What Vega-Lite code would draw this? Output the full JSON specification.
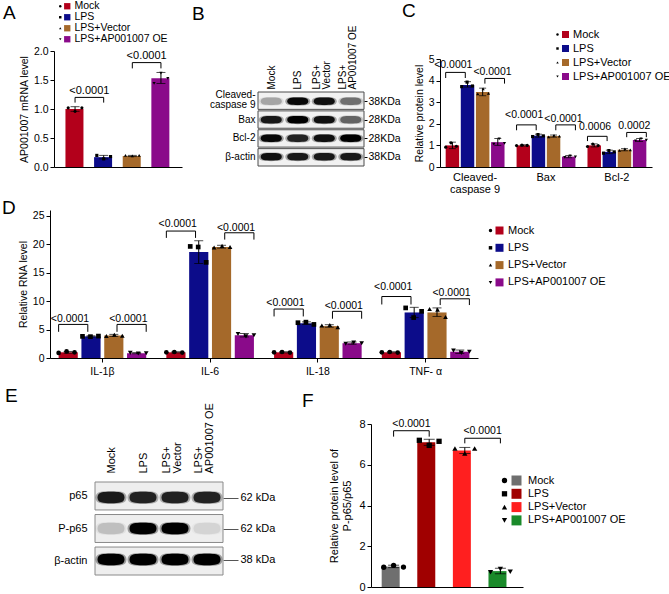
{
"$schema":"https://vega.github.io/schema/vega-lite/v6.json",
"padding":{"left":2,"top":1,"right":0,"bottom":0},
"config":{"font":"Liberation Sans","view":{"stroke":null},
"axis":{"domainColor":"#000","tickColor":"#000","labelColor":"#000","titleColor":"#000","labelFontSize":10.5,"titleFontSize":10.5,"titleFontWeight":"normal","grid":false,"tickSize":4,"labelPadding":2,"titlePadding":4,"labelOverlap":false},
"legend":{"labelColor":"#000","padding":0},
"title":{"fontSize":19,"fontWeight":"normal","anchor":"start","frame":"group","color":"#000","offset":0},
"text":{"color":"#000"}},
"datasets":{
"a_bars":[{"group":"Mock","mean":1.0,"lo":0.96,"hi":1.04},{"group":"LPS","mean":0.17,"lo":0.14,"hi":0.2},{"group":"LPS+Vector","mean":0.19,"lo":0.18,"hi":0.2},{"group":"LPS+AP001007 OE","mean":1.53,"lo":1.44,"hi":1.63}],
"a_pts":[{"group":"Mock","rep":1,"value":1.02},{"group":"Mock","rep":2,"value":0.96},{"group":"Mock","rep":3,"value":1.02},{"group":"LPS","rep":1,"value":0.2},{"group":"LPS","rep":2,"value":0.14},{"group":"LPS","rep":3,"value":0.18},{"group":"LPS+Vector","rep":1,"value":0.2},{"group":"LPS+Vector","rep":2,"value":0.19},{"group":"LPS+Vector","rep":3,"value":0.2},{"group":"LPS+AP001007 OE","rep":1,"value":1.44},{"group":"LPS+AP001007 OE","rep":2,"value":1.62},{"group":"LPS+AP001007 OE","rep":3,"value":1.53}],
"a_br":[{"id":"b1","group":"Mock","y":1.11,"ord":1},{"id":"b1","group":"Mock","y":1.2,"ord":2},{"id":"b1","group":"LPS","y":1.2,"ord":3},{"id":"b1","group":"LPS","y":1.11,"ord":4},{"id":"b2","group":"LPS+Vector","y":1.7,"ord":1},{"id":"b2","group":"LPS+Vector","y":1.8,"ord":2},{"id":"b2","group":"LPS+AP001007 OE","y":1.8,"ord":3},{"id":"b2","group":"LPS+AP001007 OE","y":1.7,"ord":4}],
"a_lab":[{"from":"Mock","y":1.31,"text":"<0.0001"},{"from":"LPS+Vector","y":1.91,"text":"<0.0001"}],
"b_rows":[{"row":"Cleaved-caspase 9"},{"row":"Bax"},{"row":"Bcl-2"},{"row":"β-actin"}],
"b_bands":[{"row":"Cleaved-caspase 9","lane":"Mock","intensity":0.25},{"row":"Cleaved-caspase 9","lane":"LPS","intensity":0.95},{"row":"Cleaved-caspase 9","lane":"LPS+Vector","intensity":0.9},{"row":"Cleaved-caspase 9","lane":"LPS+AP001007 OE","intensity":0.45},{"row":"Bax","lane":"Mock","intensity":0.85},{"row":"Bax","lane":"LPS","intensity":1.0},{"row":"Bax","lane":"LPS+Vector","intensity":0.9},{"row":"Bax","lane":"LPS+AP001007 OE","intensity":0.5},{"row":"Bcl-2","lane":"Mock","intensity":0.95},{"row":"Bcl-2","lane":"LPS","intensity":0.8},{"row":"Bcl-2","lane":"LPS+Vector","intensity":0.9},{"row":"Bcl-2","lane":"LPS+AP001007 OE","intensity":1.0},{"row":"β-actin","lane":"Mock","intensity":0.9},{"row":"β-actin","lane":"LPS","intensity":0.85},{"row":"β-actin","lane":"LPS+Vector","intensity":0.85},{"row":"β-actin","lane":"LPS+AP001007 OE","intensity":0.85}],
"c_bars":[{"target":"Cleaved-caspase 9","group":"Mock","mean":1.0,"lo":0.85,"hi":1.15},{"target":"Cleaved-caspase 9","group":"LPS","mean":3.8,"lo":3.7,"hi":3.95},{"target":"Cleaved-caspase 9","group":"LPS+Vector","mean":3.47,"lo":3.3,"hi":3.65},{"target":"Cleaved-caspase 9","group":"LPS+AP001007 OE","mean":1.15,"lo":1.0,"hi":1.32},{"target":"Bax","group":"Mock","mean":1.0,"lo":0.97,"hi":1.03},{"target":"Bax","group":"LPS","mean":1.45,"lo":1.38,"hi":1.52},{"target":"Bax","group":"LPS+Vector","mean":1.43,"lo":1.38,"hi":1.48},{"target":"Bax","group":"LPS+AP001007 OE","mean":0.48,"lo":0.43,"hi":0.53},{"target":"Bcl-2","group":"Mock","mean":1.0,"lo":0.93,"hi":1.07},{"target":"Bcl-2","group":"LPS","mean":0.7,"lo":0.62,"hi":0.78},{"target":"Bcl-2","group":"LPS+Vector","mean":0.8,"lo":0.75,"hi":0.85},{"target":"Bcl-2","group":"LPS+AP001007 OE","mean":1.25,"lo":1.18,"hi":1.32}],
"c_pts":[
{"target":"Cleaved-caspase 9","group":"Mock","key":"Mock-1","value":0.92},{"target":"Cleaved-caspase 9","group":"Mock","key":"Mock-2","value":1.12},{"target":"Cleaved-caspase 9","group":"Mock","key":"Mock-3","value":0.96},
{"target":"Cleaved-caspase 9","group":"LPS","key":"LPS-1","value":3.72},{"target":"Cleaved-caspase 9","group":"LPS","key":"LPS-2","value":3.93},{"target":"Cleaved-caspase 9","group":"LPS","key":"LPS-3","value":3.75},
{"target":"Cleaved-caspase 9","group":"LPS+Vector","key":"LPS+Vector-1","value":3.38},{"target":"Cleaved-caspase 9","group":"LPS+Vector","key":"LPS+Vector-2","value":3.62},{"target":"Cleaved-caspase 9","group":"LPS+Vector","key":"LPS+Vector-3","value":3.41},
{"target":"Cleaved-caspase 9","group":"LPS+AP001007 OE","key":"LPS+AP001007 OE-1","value":1.06},{"target":"Cleaved-caspase 9","group":"LPS+AP001007 OE","key":"LPS+AP001007 OE-2","value":1.3},{"target":"Cleaved-caspase 9","group":"LPS+AP001007 OE","key":"LPS+AP001007 OE-3","value":1.09},
{"target":"Bax","group":"Mock","key":"Mock-1","value":0.99},{"target":"Bax","group":"Mock","key":"Mock-2","value":1.01},{"target":"Bax","group":"Mock","key":"Mock-3","value":1.0},
{"target":"Bax","group":"LPS","key":"LPS-1","value":1.41},{"target":"Bax","group":"LPS","key":"LPS-2","value":1.5},{"target":"Bax","group":"LPS","key":"LPS-3","value":1.44},
{"target":"Bax","group":"LPS+Vector","key":"LPS+Vector-1","value":1.4},{"target":"Bax","group":"LPS+Vector","key":"LPS+Vector-2","value":1.46},{"target":"Bax","group":"LPS+Vector","key":"LPS+Vector-3","value":1.43},
{"target":"Bax","group":"LPS+AP001007 OE","key":"LPS+AP001007 OE-1","value":0.45},{"target":"Bax","group":"LPS+AP001007 OE","key":"LPS+AP001007 OE-2","value":0.52},{"target":"Bax","group":"LPS+AP001007 OE","key":"LPS+AP001007 OE-3","value":0.47},
{"target":"Bcl-2","group":"Mock","key":"Mock-1","value":0.95},{"target":"Bcl-2","group":"Mock","key":"Mock-2","value":1.06},{"target":"Bcl-2","group":"Mock","key":"Mock-3","value":0.99},
{"target":"Bcl-2","group":"LPS","key":"LPS-1","value":0.64},{"target":"Bcl-2","group":"LPS","key":"LPS-2","value":0.76},{"target":"Bcl-2","group":"LPS","key":"LPS-3","value":0.7},
{"target":"Bcl-2","group":"LPS+Vector","key":"LPS+Vector-1","value":0.77},{"target":"Bcl-2","group":"LPS+Vector","key":"LPS+Vector-2","value":0.84},{"target":"Bcl-2","group":"LPS+Vector","key":"LPS+Vector-3","value":0.79},
{"target":"Bcl-2","group":"LPS+AP001007 OE","key":"LPS+AP001007 OE-1","value":1.21},{"target":"Bcl-2","group":"LPS+AP001007 OE","key":"LPS+AP001007 OE-2","value":1.3},{"target":"Bcl-2","group":"LPS+AP001007 OE","key":"LPS+AP001007 OE-3","value":1.24}],
"c_br":[
{"target":"Cleaved-caspase 9","id":"c1","group":"Mock","y":4.12,"ord":1},{"target":"Cleaved-caspase 9","id":"c1","group":"Mock","y":4.38,"ord":2},{"target":"Cleaved-caspase 9","id":"c1","group":"LPS","y":4.38,"ord":3},{"target":"Cleaved-caspase 9","id":"c1","group":"LPS","y":4.12,"ord":4},
{"target":"Cleaved-caspase 9","id":"c2","group":"LPS+Vector","y":3.86,"ord":1},{"target":"Cleaved-caspase 9","id":"c2","group":"LPS+Vector","y":4.1,"ord":2},{"target":"Cleaved-caspase 9","id":"c2","group":"LPS+AP001007 OE","y":4.1,"ord":3},{"target":"Cleaved-caspase 9","id":"c2","group":"LPS+AP001007 OE","y":3.86,"ord":4},
{"target":"Bax","id":"c3","group":"Mock","y":1.7,"ord":1},{"target":"Bax","id":"c3","group":"Mock","y":1.95,"ord":2},{"target":"Bax","id":"c3","group":"LPS","y":1.95,"ord":3},{"target":"Bax","id":"c3","group":"LPS","y":1.7,"ord":4},
{"target":"Bax","id":"c4","group":"LPS+Vector","y":1.7,"ord":1},{"target":"Bax","id":"c4","group":"LPS+Vector","y":1.95,"ord":2},{"target":"Bax","id":"c4","group":"LPS+AP001007 OE","y":1.95,"ord":3},{"target":"Bax","id":"c4","group":"LPS+AP001007 OE","y":1.7,"ord":4},
{"target":"Bcl-2","id":"c5","group":"Mock","y":1.2,"ord":1},{"target":"Bcl-2","id":"c5","group":"Mock","y":1.42,"ord":2},{"target":"Bcl-2","id":"c5","group":"LPS","y":1.42,"ord":3},{"target":"Bcl-2","id":"c5","group":"LPS","y":1.2,"ord":4},
{"target":"Bcl-2","id":"c6","group":"LPS+Vector","y":1.38,"ord":1},{"target":"Bcl-2","id":"c6","group":"LPS+Vector","y":1.6,"ord":2},{"target":"Bcl-2","id":"c6","group":"LPS+AP001007 OE","y":1.6,"ord":3},{"target":"Bcl-2","id":"c6","group":"LPS+AP001007 OE","y":1.38,"ord":4}],
"c_lab":[{"target":"Cleaved-caspase 9","from":"Mock","y":4.72,"text":"<0.0001"},{"target":"Cleaved-caspase 9","from":"LPS+Vector","y":4.4,"text":"<0.0001"},{"target":"Bax","from":"Mock","y":2.42,"text":"<0.0001"},{"target":"Bax","from":"LPS+Vector","y":2.2,"text":"<0.0001"},{"target":"Bcl-2","from":"Mock","y":1.85,"text":"0.0006"},{"target":"Bcl-2","from":"LPS+Vector","y":1.88,"text":"0.0002"}],
"d_bars":[{"target":"IL-1β","group":"Mock","mean":1.0,"lo":0.85,"hi":1.15},{"target":"IL-1β","group":"LPS","mean":3.8,"lo":3.7,"hi":3.9},{"target":"IL-1β","group":"LPS+Vector","mean":3.95,"lo":3.8,"hi":4.15},{"target":"IL-1β","group":"LPS+AP001007 OE","mean":0.85,"lo":0.75,"hi":0.95},
{"target":"IL-6","group":"Mock","mean":1.0,"lo":0.9,"hi":1.1},{"target":"IL-6","group":"LPS","mean":18.6,"lo":16.6,"hi":20.6},{"target":"IL-6","group":"LPS+Vector","mean":19.5,"lo":19.3,"hi":19.8},{"target":"IL-6","group":"LPS+AP001007 OE","mean":4.0,"lo":3.7,"hi":4.3},
{"target":"IL-18","group":"Mock","mean":1.0,"lo":0.9,"hi":1.1},{"target":"IL-18","group":"LPS","mean":6.1,"lo":5.9,"hi":6.35},{"target":"IL-18","group":"LPS+Vector","mean":5.6,"lo":5.4,"hi":5.85},{"target":"IL-18","group":"LPS+AP001007 OE","mean":2.6,"lo":2.4,"hi":2.8},
{"target":"TNF- α","group":"Mock","mean":1.0,"lo":0.9,"hi":1.1},{"target":"TNF- α","group":"LPS","mean":8.0,"lo":7.1,"hi":8.9},{"target":"TNF- α","group":"LPS+Vector","mean":8.0,"lo":7.3,"hi":8.8},{"target":"TNF- α","group":"LPS+AP001007 OE","mean":1.1,"lo":0.8,"hi":1.4}],
"d_pts":[
{"target":"IL-1β","group":"Mock","key":"Mock-1","value":0.9},{"target":"IL-1β","group":"Mock","key":"Mock-2","value":1.15},{"target":"IL-1β","group":"Mock","key":"Mock-3","value":1.0},
{"target":"IL-1β","group":"LPS","key":"LPS-1","value":3.8},{"target":"IL-1β","group":"LPS","key":"LPS-2","value":3.75},{"target":"IL-1β","group":"LPS","key":"LPS-3","value":3.85},
{"target":"IL-1β","group":"LPS+Vector","key":"LPS+Vector-1","value":3.85},{"target":"IL-1β","group":"LPS+Vector","key":"LPS+Vector-2","value":4.1},{"target":"IL-1β","group":"LPS+Vector","key":"LPS+Vector-3","value":3.9},
{"target":"IL-1β","group":"LPS+AP001007 OE","key":"LPS+AP001007 OE-1","value":0.9},{"target":"IL-1β","group":"LPS+AP001007 OE","key":"LPS+AP001007 OE-2","value":0.8},{"target":"IL-1β","group":"LPS+AP001007 OE","key":"LPS+AP001007 OE-3","value":0.85},
{"target":"IL-6","group":"Mock","key":"Mock-1","value":1.0},{"target":"IL-6","group":"Mock","key":"Mock-2","value":1.05},{"target":"IL-6","group":"Mock","key":"Mock-3","value":0.95},
{"target":"IL-6","group":"LPS","key":"LPS-1","value":19.6},{"target":"IL-6","group":"LPS","key":"LPS-2","value":19.5},{"target":"IL-6","group":"LPS","key":"LPS-3","value":16.8},
{"target":"IL-6","group":"LPS+Vector","key":"LPS+Vector-1","value":19.4},{"target":"IL-6","group":"LPS+Vector","key":"LPS+Vector-2","value":19.7},{"target":"IL-6","group":"LPS+Vector","key":"LPS+Vector-3","value":19.5},
{"target":"IL-6","group":"LPS+AP001007 OE","key":"LPS+AP001007 OE-1","value":4.2},{"target":"IL-6","group":"LPS+AP001007 OE","key":"LPS+AP001007 OE-2","value":3.8},{"target":"IL-6","group":"LPS+AP001007 OE","key":"LPS+AP001007 OE-3","value":4.0},
{"target":"IL-18","group":"Mock","key":"Mock-1","value":1.0},{"target":"IL-18","group":"Mock","key":"Mock-2","value":1.05},{"target":"IL-18","group":"Mock","key":"Mock-3","value":0.95},
{"target":"IL-18","group":"LPS","key":"LPS-1","value":6.2},{"target":"IL-18","group":"LPS","key":"LPS-2","value":6.3},{"target":"IL-18","group":"LPS","key":"LPS-3","value":5.9},
{"target":"IL-18","group":"LPS+Vector","key":"LPS+Vector-1","value":5.7},{"target":"IL-18","group":"LPS+Vector","key":"LPS+Vector-2","value":5.8},{"target":"IL-18","group":"LPS+Vector","key":"LPS+Vector-3","value":5.4},
{"target":"IL-18","group":"LPS+AP001007 OE","key":"LPS+AP001007 OE-1","value":2.5},{"target":"IL-18","group":"LPS+AP001007 OE","key":"LPS+AP001007 OE-2","value":2.7},{"target":"IL-18","group":"LPS+AP001007 OE","key":"LPS+AP001007 OE-3","value":2.6},
{"target":"TNF- α","group":"Mock","key":"Mock-1","value":1.0},{"target":"TNF- α","group":"Mock","key":"Mock-2","value":1.05},{"target":"TNF- α","group":"Mock","key":"Mock-3","value":0.95},
{"target":"TNF- α","group":"LPS","key":"LPS-1","value":8.8},{"target":"TNF- α","group":"LPS","key":"LPS-2","value":7.1},{"target":"TNF- α","group":"LPS","key":"LPS-3","value":8.2},
{"target":"TNF- α","group":"LPS+Vector","key":"LPS+Vector-1","value":8.6},{"target":"TNF- α","group":"LPS+Vector","key":"LPS+Vector-2","value":8.5},{"target":"TNF- α","group":"LPS+Vector","key":"LPS+Vector-3","value":7.2},
{"target":"TNF- α","group":"LPS+AP001007 OE","key":"LPS+AP001007 OE-1","value":1.3},{"target":"TNF- α","group":"LPS+AP001007 OE","key":"LPS+AP001007 OE-2","value":0.9},{"target":"TNF- α","group":"LPS+AP001007 OE","key":"LPS+AP001007 OE-3","value":1.1}],
"d_br":[
{"target":"IL-1β","id":"d1","group":"Mock","y":4.6,"ord":1},{"target":"IL-1β","id":"d1","group":"Mock","y":5.9,"ord":2},{"target":"IL-1β","id":"d1","group":"LPS","y":5.9,"ord":3},{"target":"IL-1β","id":"d1","group":"LPS","y":4.6,"ord":4},
{"target":"IL-1β","id":"d2","group":"LPS+Vector","y":4.6,"ord":1},{"target":"IL-1β","id":"d2","group":"LPS+Vector","y":5.9,"ord":2},{"target":"IL-1β","id":"d2","group":"LPS+AP001007 OE","y":5.9,"ord":3},{"target":"IL-1β","id":"d2","group":"LPS+AP001007 OE","y":4.6,"ord":4},
{"target":"IL-6","id":"d3","group":"Mock","y":21.1,"ord":1},{"target":"IL-6","id":"d3","group":"Mock","y":22.3,"ord":2},{"target":"IL-6","id":"d3","group":"LPS","y":22.3,"ord":3},{"target":"IL-6","id":"d3","group":"LPS","y":21.1,"ord":4},
{"target":"IL-6","id":"d4","group":"LPS+Vector","y":20.8,"ord":1},{"target":"IL-6","id":"d4","group":"LPS+Vector","y":22.0,"ord":2},{"target":"IL-6","id":"d4","group":"LPS+AP001007 OE","y":22.0,"ord":3},{"target":"IL-6","id":"d4","group":"LPS+AP001007 OE","y":20.8,"ord":4},
{"target":"IL-18","id":"d5","group":"Mock","y":7.3,"ord":1},{"target":"IL-18","id":"d5","group":"Mock","y":8.6,"ord":2},{"target":"IL-18","id":"d5","group":"LPS","y":8.6,"ord":3},{"target":"IL-18","id":"d5","group":"LPS","y":7.3,"ord":4},
{"target":"IL-18","id":"d6","group":"LPS+Vector","y":6.9,"ord":1},{"target":"IL-18","id":"d6","group":"LPS+Vector","y":8.2,"ord":2},{"target":"IL-18","id":"d6","group":"LPS+AP001007 OE","y":8.2,"ord":3},{"target":"IL-18","id":"d6","group":"LPS+AP001007 OE","y":6.9,"ord":4},
{"target":"TNF- α","id":"d7","group":"Mock","y":9.4,"ord":1},{"target":"TNF- α","id":"d7","group":"Mock","y":10.8,"ord":2},{"target":"TNF- α","id":"d7","group":"LPS","y":10.8,"ord":3},{"target":"TNF- α","id":"d7","group":"LPS","y":9.4,"ord":4},
{"target":"TNF- α","id":"d8","group":"LPS+Vector","y":9.3,"ord":1},{"target":"TNF- α","id":"d8","group":"LPS+Vector","y":10.4,"ord":2},{"target":"TNF- α","id":"d8","group":"LPS+AP001007 OE","y":10.4,"ord":3},{"target":"TNF- α","id":"d8","group":"LPS+AP001007 OE","y":9.3,"ord":4}],
"d_lab":[{"target":"IL-1β","from":"Mock","y":6.9,"text":"<0.0001"},{"target":"IL-1β","from":"LPS+Vector","y":6.9,"text":"<0.0001"},{"target":"IL-6","from":"Mock","y":23.5,"text":"<0.0001"},{"target":"IL-6","from":"LPS+Vector","y":22.9,"text":"<0.0001"},{"target":"IL-18","from":"Mock","y":9.7,"text":"<0.0001"},{"target":"IL-18","from":"LPS+Vector","y":9.1,"text":"<0.0001"},{"target":"TNF- α","from":"Mock","y":12.5,"text":"<0.0001"},{"target":"TNF- α","from":"LPS+Vector","y":11.5,"text":"<0.0001"}],
"e_rows":[{"row":"p65"},{"row":"P-p65"},{"row":"β-actin"}],
"e_bands":[{"row":"p65","lane":"Mock","intensity":0.85},{"row":"p65","lane":"LPS","intensity":0.8},{"row":"p65","lane":"LPS+Vector","intensity":0.8},{"row":"p65","lane":"LPS+AP001007 OE","intensity":0.8},{"row":"P-p65","lane":"Mock","intensity":0.15},{"row":"P-p65","lane":"LPS","intensity":1.0},{"row":"P-p65","lane":"LPS+Vector","intensity":1.0},{"row":"P-p65","lane":"LPS+AP001007 OE","intensity":0.08},{"row":"β-actin","lane":"Mock","intensity":1.0},{"row":"β-actin","lane":"LPS","intensity":1.0},{"row":"β-actin","lane":"LPS+Vector","intensity":1.0},{"row":"β-actin","lane":"LPS+AP001007 OE","intensity":1.0}],
"f_bars":[{"group":"Mock","mean":1.0,"lo":0.95,"hi":1.07},{"group":"LPS","mean":7.1,"lo":6.95,"hi":7.25},{"group":"LPS+Vector","mean":6.7,"lo":6.55,"hi":6.85},{"group":"LPS+AP001007 OE","mean":0.78,"lo":0.65,"hi":0.92}],
"f_pts":[{"group":"Mock","rep":1,"value":0.97},{"group":"Mock","rep":2,"value":1.06},{"group":"Mock","rep":3,"value":0.98},{"group":"LPS","rep":1,"value":7.2},{"group":"LPS","rep":2,"value":6.95},{"group":"LPS","rep":3,"value":7.15},{"group":"LPS+Vector","rep":1,"value":6.8},{"group":"LPS+Vector","rep":2,"value":6.55},{"group":"LPS+Vector","rep":3,"value":6.8},{"group":"LPS+AP001007 OE","rep":1,"value":0.72},{"group":"LPS+AP001007 OE","rep":2,"value":0.88},{"group":"LPS+AP001007 OE","rep":3,"value":0.75}],
"f_br":[{"id":"f1","group":"Mock","y":7.38,"ord":1},{"id":"f1","group":"Mock","y":7.67,"ord":2},{"id":"f1","group":"LPS","y":7.67,"ord":3},{"id":"f1","group":"LPS","y":7.38,"ord":4},{"id":"f2","group":"LPS+Vector","y":7.05,"ord":1},{"id":"f2","group":"LPS+Vector","y":7.3,"ord":2},{"id":"f2","group":"LPS+AP001007 OE","y":7.3,"ord":3},{"id":"f2","group":"LPS+AP001007 OE","y":7.05,"ord":4}],
"f_lab":[{"from":"Mock","y":8.0,"text":"<0.0001"},{"from":"LPS+Vector","y":7.65,"text":"<0.0001"}]
},
"spacing":373,
"bounds":"flush",
"resolve":{"scale":{"x":"independent","y":"independent","color":"independent","shape":"independent","opacity":"independent","xOffset":"independent"},"legend":{"color":"independent","shape":"independent"}},
"vconcat":[
{"spacing":159,"bounds":"flush",
"resolve":{"scale":{"x":"independent","y":"independent","color":"independent","shape":"independent","opacity":"independent","xOffset":"independent"},"legend":{"color":"independent","shape":"independent"}},
"vconcat":[
{"spacing":76,"bounds":"flush",
"resolve":{"scale":{"x":"independent","y":"independent","color":"independent","shape":"independent","opacity":"independent","xOffset":"independent"},"legend":{"color":"independent","shape":"independent"}},
"hconcat":[
{"width":87,"height":116,"title":{"text":"A","dx":-92,"dy":26},
"layer":[
{"data":{"name":"a_bars"},"mark":{"type":"bar"},
"encoding":{"x":{"field":"group","type":"nominal","scale":{"domain":["Mock","LPS","LPS+Vector","LPS+AP001007 OE"],"range":[-41,87],"paddingInner":0.33,"paddingOuter":0.4},"axis":{"labels":false,"ticks":false,"title":null}},
"y":{"field":"mean","type":"quantitative","scale":{"domain":[0,2]},"axis":{"values":[0,0.5,1,1.5,2],"tickCount":5,"labelOverlap":false,"format":".1f","title":"AP001007 mRNA level","offset":41}},
"color":{"field":"group","type":"nominal","scale":{"domain":["Mock","LPS","LPS+Vector","LPS+AP001007 OE"],"range":["#b3001b","#0c0c8a","#a5692a","#8a0a8a"]},"legend":{"orient":"none","legendX":-33,"legendY":-50,"title":null,"direction":"vertical","symbolType":"square","symbolSize":40,"symbolStrokeWidth":0,"labelFontSize":10.5,"labelOffset":2,"rowPadding":-4.5}}}},
{"data":{"name":"a_bars"},"mark":{"type":"rule","color":"#000"},
"encoding":{"x":{"field":"group","type":"nominal"},"y":{"field":"lo","type":"quantitative","axis":{"values":[0,0.5,1,1.5,2],"tickCount":5}},"y2":{"field":"hi"}}},
{"data":{"name":"a_bars"},"transform":[{"fold":["lo","hi"],"as":["end","val"]}],"mark":{"type":"tick","orient":"horizontal","size":9,"thickness":1,"color":"#000"},
"encoding":{"x":{"field":"group","type":"nominal"},"y":{"field":"val","type":"quantitative","axis":{"values":[0,0.5,1,1.5,2],"tickCount":5}}}},
{"data":{"name":"a_pts"},"mark":{"type":"point","filled":true,"color":"#000","size":10,"opacity":1},
"encoding":{"x":{"field":"group","type":"nominal"},"xOffset":{"field":"rep","type":"nominal","scale":{"paddingInner":0,"paddingOuter":0.4}},"y":{"field":"value","type":"quantitative","axis":{"values":[0,0.5,1,1.5,2],"tickCount":5}},
"shape":{"field":"group","type":"nominal","sort":["Mock","LPS","LPS+Vector","LPS+AP001007 OE"],"scale":{"range":["circle","square","triangle-up","triangle-down"]},"legend":{"orient":"none","legendX":-40,"legendY":-50,"title":null,"direction":"vertical","symbolSize":6,"symbolFillColor":"#000","symbolStrokeWidth":0,"labelExpr":"' '","labelFontSize":10.5,"labelOffset":0,"rowPadding":-4.5}}}},
{"data":{"name":"a_br"},"mark":{"type":"line","color":"#000","strokeWidth":1},
"encoding":{"x":{"field":"group","type":"nominal"},"y":{"field":"y","type":"quantitative","axis":{"values":[0,0.5,1,1.5,2],"tickCount":5}},"detail":{"field":"id"},"order":{"field":"ord","type":"quantitative"}}},
{"data":{"name":"a_lab"},"mark":{"type":"text","dx":14.3,"fontSize":11,"baseline":"middle"},
"encoding":{"x":{"field":"from","type":"nominal"},"y":{"field":"y","type":"quantitative","axis":{"values":[0,0.5,1,1.5,2],"tickCount":5}},"text":{"field":"text"}}}
]},
{"width":106,"height":116,"title":{"text":"B","dx":-66,"dy":3},
"resolve":{"scale":{"y":"independent","opacity":"independent"}},
"layer":[
{"data":{"name":"b_rows"},"mark":{"type":"rect","fill":"#f1f1f1","stroke":"#4d4d4d","strokeWidth":1},
"encoding":{"y":{"field":"row","type":"nominal","scale":{"domain":["Cleaved-caspase 9","Bax","Bcl-2","β-actin"],"range":[41,115],"paddingInner":0.08,"paddingOuter":0},"axis":{"title":null,"ticks":false,"domain":false,"labelPadding":3,"labelFontSize":10,"labelLineHeight":10,"labelOffset":{"condition":{"test":"datum.value == 'Cleaved-caspase 9'","value":-6},"value":0},"labelExpr":"datum.value == 'Cleaved-caspase 9' ? ['Cleaved-', 'caspase 9'] : datum.value"}}}},
{"data":{"name":"b_bands"},"mark":{"type":"point","shape":"M-1,0C-1,-0.33,-0.6,-0.35,0,-0.35C0.6,-0.35,1,-0.33,1,0C1,0.33,0.6,0.35,0,0.35C-0.6,0.35,-1,0.33,-1,0Z","size":625,"filled":true,"color":"#000"},
"encoding":{"x":{"field":"lane","type":"nominal","scale":{"domain":["Mock","LPS","LPS+Vector","LPS+AP001007 OE"],"paddingInner":0,"paddingOuter":0},"axis":{"orient":"top","title":null,"ticks":false,"domain":false,"labelAngle":-90,"labelAlign":"left","labelBaseline":"middle","labelPadding":3,"offset":-41,"labelFontSize":10,"labelLineHeight":10,"labelOffset":{"condition":{"test":"indexof(datum.value, '+') >= 0","value":-8},"value":0},"labelExpr":"datum.value == 'LPS+Vector' ? ['LPS+', 'Vector'] : datum.value == 'LPS+AP001007 OE' ? ['LPS+', 'AP001007 OE'] : datum.value"}},
"y":{"field":"row","type":"nominal","scale":{"domain":["Cleaved-caspase 9","Bax","Bcl-2","β-actin"],"range":[41,115],"paddingInner":0.08,"paddingOuter":0},"axis":{"orient":"right","title":null,"domain":false,"tickSize":3,"bandPosition":1,"labelPadding":1,"labelFontSize":10.5,"labelExpr":"datum.value == 'Bax' || datum.value == 'Bcl-2' ? '28KDa' : '38KDa'"}},
"opacity":{"field":"intensity","type":"quantitative","scale":{"domain":[0,1],"range":[0,0.35]},"legend":null}}},
{"data":{"name":"b_bands"},"mark":{"type":"point","shape":"M-1,0C-1,-0.33,-0.6,-0.35,0,-0.35C0.6,-0.35,1,-0.33,1,0C1,0.33,0.6,0.35,0,0.35C-0.6,0.35,-1,0.33,-1,0Z","size":441,"filled":true,"color":"#000"},
"encoding":{"x":{"field":"lane","type":"nominal"},
"y":{"field":"row","type":"nominal","scale":{"domain":["Cleaved-caspase 9","Bax","Bcl-2","β-actin"],"range":[41,115],"paddingInner":0.08,"paddingOuter":0},"axis":null},
"opacity":{"field":"intensity","type":"quantitative","scale":{"domain":[0,1],"range":[0,1]},"legend":null}}}
]},
{"width":212,"height":116,"title":{"text":"C","dx":-38,"dy":-4},
"resolve":{"scale":{"xOffset":"independent"}},
"layer":[
{"data":{"name":"c_bars"},"mark":{"type":"bar"},
"encoding":{"x":{"field":"target","type":"nominal","scale":{"domain":["Cleaved-caspase 9","Bax","Bcl-2"],"paddingInner":0.17,"paddingOuter":0.08},"axis":{"title":null,"ticks":false,"labelAngle":0,"labelFontSize":11,"labelPadding":4,"labelLineHeight":12,"labelExpr":"datum.value == 'Cleaved-caspase 9' ? ['Cleaved-', 'caspase 9'] : datum.value"}},
"xOffset":{"field":"group","type":"nominal","scale":{"domain":["Mock","LPS","LPS+Vector","LPS+AP001007 OE"],"paddingInner":0.11,"paddingOuter":0}},
"y":{"field":"mean","type":"quantitative","scale":{"domain":[0,5],"range":[116,8]},"axis":{"title":"Relative protein level","values":[0,1,2,3,4,5],"tickCount":6,"labelOverlap":false}},
"color":{"field":"group","type":"nominal","scale":{"domain":["Mock","LPS","LPS+Vector","LPS+AP001007 OE"],"range":["#b3001b","#0c0c8a","#a5692a","#8a0a8a"]},"legend":{"orient":"none","legendX":120,"legendY":-22,"title":null,"direction":"vertical","symbolType":"square","symbolSize":49,"symbolStrokeWidth":0,"labelFontSize":11,"labelOffset":2,"rowPadding":2}}}},
{"data":{"name":"c_bars"},"mark":{"type":"rule","color":"#000"},
"encoding":{"x":{"field":"target","type":"nominal"},"xOffset":{"field":"group","type":"nominal","scale":{"domain":["Mock","LPS","LPS+Vector","LPS+AP001007 OE"],"paddingInner":0.11,"paddingOuter":0}},"y":{"field":"lo","type":"quantitative","axis":{"values":[0,1,2,3,4,5],"tickCount":6}},"y2":{"field":"hi"}}},
{"data":{"name":"c_bars"},"transform":[{"fold":["lo","hi"],"as":["end","val"]}],"mark":{"type":"tick","orient":"horizontal","size":7,"thickness":1,"color":"#000"},
"encoding":{"x":{"field":"target","type":"nominal"},"xOffset":{"field":"group","type":"nominal","scale":{"domain":["Mock","LPS","LPS+Vector","LPS+AP001007 OE"],"paddingInner":0.11,"paddingOuter":0}},"y":{"field":"val","type":"quantitative","axis":{"values":[0,1,2,3,4,5],"tickCount":6}}}},
{"data":{"name":"c_pts"},"mark":{"type":"point","filled":true,"color":"#000","size":10,"opacity":1},
"encoding":{"x":{"field":"target","type":"nominal"},"xOffset":{"field":"key","type":"nominal","scale":{"domain":["Mock-1","Mock-2","Mock-3","LPS-1","LPS-2","LPS-3","LPS+Vector-1","LPS+Vector-2","LPS+Vector-3","LPS+AP001007 OE-1","LPS+AP001007 OE-2","LPS+AP001007 OE-3"],"paddingInner":0,"paddingOuter":0}},"y":{"field":"value","type":"quantitative","axis":{"values":[0,1,2,3,4,5],"tickCount":6}},
"shape":{"field":"group","type":"nominal","sort":["Mock","LPS","LPS+Vector","LPS+AP001007 OE"],"scale":{"range":["circle","square","triangle-up","triangle-down"]},"legend":{"orient":"none","legendX":112,"legendY":-22,"title":null,"direction":"vertical","symbolSize":6,"symbolFillColor":"#000","symbolStrokeWidth":0,"labelExpr":"' '","labelFontSize":11,"labelOffset":0,"rowPadding":2}}}},
{"data":{"name":"c_br"},"mark":{"type":"line","color":"#000","strokeWidth":1},
"encoding":{"x":{"field":"target","type":"nominal"},"xOffset":{"field":"group","type":"nominal","scale":{"domain":["Mock","LPS","LPS+Vector","LPS+AP001007 OE"],"paddingInner":0.11,"paddingOuter":0}},"y":{"field":"y","type":"quantitative","axis":{"values":[0,1,2,3,4,5],"tickCount":6}},"detail":{"field":"id"},"order":{"field":"ord","type":"quantitative"}}},
{"data":{"name":"c_lab"},"mark":{"type":"text","dx":7.6,"fontSize":10.5,"baseline":"middle"},
"encoding":{"x":{"field":"target","type":"nominal"},"xOffset":{"field":"from","type":"nominal","scale":{"domain":["Mock","LPS","LPS+Vector","LPS+AP001007 OE"],"paddingInner":0.11,"paddingOuter":0}},"y":{"field":"y","type":"quantitative","axis":{"values":[0,1,2,3,4,5],"tickCount":6}},"text":{"field":"text"}}}
]}
]},
{"width":383,"height":148,"title":{"text":"D","dx":-93,"dy":12},
"resolve":{"scale":{"xOffset":"independent"}},
"layer":[
{"data":{"name":"d_bars"},"mark":{"type":"bar"},
"encoding":{"x":{"field":"target","type":"nominal","scale":{"domain":["IL-1β","IL-6","IL-18","TNF- α"],"range":[-45,383],"paddingInner":0.187,"paddingOuter":0.08},"axis":{"title":null,"labelAngle":0,"labelFontSize":10.5,"labelPadding":4}},
"xOffset":{"field":"group","type":"nominal","scale":{"domain":["Mock","LPS","LPS+Vector","LPS+AP001007 OE"],"paddingInner":0.16,"paddingOuter":0}},
"y":{"field":"mean","type":"quantitative","scale":{"domain":[0,25]},"axis":{"title":"Relative RNA level","values":[0,5,10,15,20,25],"tickCount":6,"labelOverlap":false,"offset":45}},
"color":{"field":"group","type":"nominal","scale":{"domain":["Mock","LPS","LPS+Vector","LPS+AP001007 OE"],"range":["#b3001b","#0c0c8a","#a5692a","#8a0a8a"]},"legend":{"orient":"none","legendX":399,"legendY":15,"title":null,"direction":"vertical","symbolType":"square","symbolSize":64,"symbolStrokeWidth":0,"labelFontSize":11,"labelOffset":3,"rowPadding":5.3}}}},
{"data":{"name":"d_bars"},"mark":{"type":"rule","color":"#000"},
"encoding":{"x":{"field":"target","type":"nominal"},"xOffset":{"field":"group","type":"nominal","scale":{"domain":["Mock","LPS","LPS+Vector","LPS+AP001007 OE"],"paddingInner":0.16,"paddingOuter":0}},"y":{"field":"lo","type":"quantitative","axis":{"values":[0,5,10,15,20,25],"tickCount":6}},"y2":{"field":"hi"}}},
{"data":{"name":"d_bars"},"transform":[{"fold":["lo","hi"],"as":["end","val"]}],"mark":{"type":"tick","orient":"horizontal","size":9,"thickness":1,"color":"#000"},
"encoding":{"x":{"field":"target","type":"nominal"},"xOffset":{"field":"group","type":"nominal","scale":{"domain":["Mock","LPS","LPS+Vector","LPS+AP001007 OE"],"paddingInner":0.16,"paddingOuter":0}},"y":{"field":"val","type":"quantitative","axis":{"values":[0,5,10,15,20,25],"tickCount":6}}}},
{"data":{"name":"d_pts"},"mark":{"type":"point","filled":true,"color":"#000","size":22,"opacity":1},
"encoding":{"x":{"field":"target","type":"nominal"},"xOffset":{"field":"key","type":"nominal","scale":{"domain":["Mock-1","Mock-2","Mock-3","LPS-1","LPS-2","LPS-3","LPS+Vector-1","LPS+Vector-2","LPS+Vector-3","LPS+AP001007 OE-1","LPS+AP001007 OE-2","LPS+AP001007 OE-3"],"paddingInner":0,"paddingOuter":0}},"y":{"field":"value","type":"quantitative","axis":{"values":[0,5,10,15,20,25],"tickCount":6}},
"shape":{"field":"group","type":"nominal","sort":["Mock","LPS","LPS+Vector","LPS+AP001007 OE"],"scale":{"range":["circle","square","triangle-up","triangle-down"]},"legend":{"orient":"none","legendX":390,"legendY":15,"title":null,"direction":"vertical","symbolSize":12,"symbolFillColor":"#000","symbolStrokeWidth":0,"labelExpr":"' '","labelFontSize":11,"labelOffset":0,"rowPadding":5.3}}}},
{"data":{"name":"d_br"},"mark":{"type":"line","color":"#000","strokeWidth":1},
"encoding":{"x":{"field":"target","type":"nominal"},"xOffset":{"field":"group","type":"nominal","scale":{"domain":["Mock","LPS","LPS+Vector","LPS+AP001007 OE"],"paddingInner":0.16,"paddingOuter":0}},"y":{"field":"y","type":"quantitative","axis":{"values":[0,5,10,15,20,25],"tickCount":6}},"detail":{"field":"id"},"order":{"field":"ord","type":"quantitative"}}},
{"data":{"name":"d_lab"},"mark":{"type":"text","dx":11.35,"fontSize":10.5,"baseline":"middle"},
"encoding":{"x":{"field":"target","type":"nominal"},"xOffset":{"field":"from","type":"nominal","scale":{"domain":["Mock","LPS","LPS+Vector","LPS+AP001007 OE"],"paddingInner":0.16,"paddingOuter":0}},"y":{"field":"y","type":"quantitative","axis":{"values":[0,5,10,15,20,25],"tickCount":6}},"text":{"field":"text"}}}
]}
]},
{"spacing":148,"bounds":"flush",
"resolve":{"scale":{"x":"independent","y":"independent","color":"independent","shape":"independent","opacity":"independent","xOffset":"independent"},"legend":{"color":"independent","shape":"independent"}},
"hconcat":[
{"width":128,"height":163,"title":{"text":"E","dx":-90,"dy":7},
"resolve":{"scale":{"y":"independent","opacity":"independent"}},
"layer":[
{"data":{"name":"e_rows"},"mark":{"type":"rect","fill":"#eeeeee","stroke":"#8a8a8a","strokeWidth":1},
"encoding":{"y":{"field":"row","type":"nominal","scale":{"domain":["p65","P-p65","β-actin"],"range":[58,151],"paddingInner":0.14,"paddingOuter":0},"axis":{"title":null,"ticks":false,"domain":false,"labelPadding":8,"labelFontSize":11}}}},
{"data":{"name":"e_bands"},"mark":{"type":"point","shape":"M-1,0C-1,-0.4,-0.6,-0.42,0,-0.42C0.6,-0.42,1,-0.4,1,0C1,0.4,0.6,0.42,0,0.42C-0.6,0.42,-1,0.4,-1,0Z","size":961,"filled":true,"color":"#000"},
"encoding":{"x":{"field":"lane","type":"nominal","scale":{"domain":["Mock","LPS","LPS+Vector","LPS+AP001007 OE"],"paddingInner":0,"paddingOuter":0},"axis":{"orient":"top","title":null,"ticks":false,"domain":false,"labelAngle":-90,"labelAlign":"left","labelBaseline":"middle","labelPadding":9,"offset":-58,"labelFontSize":11,"labelLineHeight":11,"labelOffset":{"condition":{"test":"indexof(datum.value, '+') >= 0","value":-9},"value":0},"labelExpr":"datum.value == 'LPS+Vector' ? ['LPS+', 'Vector'] : datum.value == 'LPS+AP001007 OE' ? ['LPS+', 'AP001007 OE'] : datum.value"}},
"y":{"field":"row","type":"nominal","scale":{"domain":["p65","P-p65","β-actin"],"range":[58,151],"paddingInner":0.14,"paddingOuter":0},"axis":{"orient":"right","title":null,"domain":false,"tickSize":15,"tickColor":"#555","bandPosition":0.78,"labelPadding":2,"labelFontSize":11,"labelExpr":"datum.value == 'β-actin' ? '38 kDa' : '62 kDa'"}},
"opacity":{"field":"intensity","type":"quantitative","scale":{"domain":[0,1],"range":[0,0.35]},"legend":null}}},
{"data":{"name":"e_bands"},"mark":{"type":"point","shape":"M-1,0C-1,-0.4,-0.6,-0.42,0,-0.42C0.6,-0.42,1,-0.4,1,0C1,0.4,0.6,0.42,0,0.42C-0.6,0.42,-1,0.4,-1,0Z","size":729,"filled":true,"color":"#000"},
"encoding":{"x":{"field":"lane","type":"nominal"},
"y":{"field":"row","type":"nominal","scale":{"domain":["p65","P-p65","β-actin"],"range":[58,151],"paddingInner":0.14,"paddingOuter":0},"axis":null},
"opacity":{"field":"intensity","type":"quantitative","scale":{"domain":[0,1],"range":[0,1]},"legend":null}}}
]},
{"width":152,"height":163,"title":{"text":"F","dx":-69,"dy":-3},
"layer":[
{"data":{"name":"f_bars"},"mark":{"type":"bar"},
"encoding":{"x":{"field":"group","type":"nominal","scale":{"domain":["Mock","LPS","LPS+Vector","LPS+AP001007 OE"],"paddingInner":0.33,"paddingOuter":0.3},"axis":{"labels":false,"ticks":false,"title":null}},
"y":{"field":"mean","type":"quantitative","scale":{"domain":[0,8]},"axis":{"values":[0,2,4,6,8],"tickCount":5,"labelOverlap":false,"title":["Relative protein level of","P-p65/p65"],"titleFontSize":11,"labelFontSize":11,"titlePadding":6}},
"color":{"field":"group","type":"nominal","scale":{"domain":["Mock","LPS","LPS+Vector","LPS+AP001007 OE"],"range":["#6f6f6f","#a00000","#ff1f1f","#1a8a2a"]},"legend":{"orient":"none","legendX":140,"legendY":51,"title":null,"direction":"vertical","symbolType":"square","symbolSize":100,"symbolStrokeWidth":0,"labelFontSize":11,"labelOffset":6,"rowPadding":1.3}}}},
{"data":{"name":"f_bars"},"mark":{"type":"rule","color":"#000"},
"encoding":{"x":{"field":"group","type":"nominal"},"y":{"field":"lo","type":"quantitative","axis":{"values":[0,2,4,6,8],"tickCount":5}},"y2":{"field":"hi"}}},
{"data":{"name":"f_bars"},"transform":[{"fold":["lo","hi"],"as":["end","val"]}],"mark":{"type":"tick","orient":"horizontal","size":11,"thickness":1,"color":"#000"},
"encoding":{"x":{"field":"group","type":"nominal"},"y":{"field":"val","type":"quantitative","axis":{"values":[0,2,4,6,8],"tickCount":5}}}},
{"data":{"name":"f_pts"},"mark":{"type":"point","filled":true,"color":"#000","size":28,"opacity":1},
"encoding":{"x":{"field":"group","type":"nominal"},"xOffset":{"field":"rep","type":"nominal","scale":{"paddingInner":0,"paddingOuter":0.21}},"y":{"field":"value","type":"quantitative","axis":{"values":[0,2,4,6,8],"tickCount":5}},
"shape":{"field":"group","type":"nominal","sort":["Mock","LPS","LPS+Vector","LPS+AP001007 OE"],"scale":{"range":["circle","square","triangle-up","triangle-down"]},"legend":{"orient":"none","legendX":128,"legendY":51,"title":null,"direction":"vertical","symbolSize":28,"symbolFillColor":"#000","symbolStrokeWidth":0,"labelExpr":"' '","labelFontSize":11,"labelOffset":0,"rowPadding":1.3}}}},
{"data":{"name":"f_br"},"mark":{"type":"line","color":"#000","strokeWidth":1},
"encoding":{"x":{"field":"group","type":"nominal"},"y":{"field":"y","type":"quantitative","axis":{"values":[0,2,4,6,8],"tickCount":5}},"detail":{"field":"id"},"order":{"field":"ord","type":"quantitative"}}},
{"data":{"name":"f_lab"},"mark":{"type":"text","dx":17.8,"fontSize":10.5,"baseline":"middle"},
"encoding":{"x":{"field":"from","type":"nominal"},"y":{"field":"y","type":"quantitative","axis":{"values":[0,2,4,6,8],"tickCount":5}},"text":{"field":"text"}}}
]}
]}
]
}
